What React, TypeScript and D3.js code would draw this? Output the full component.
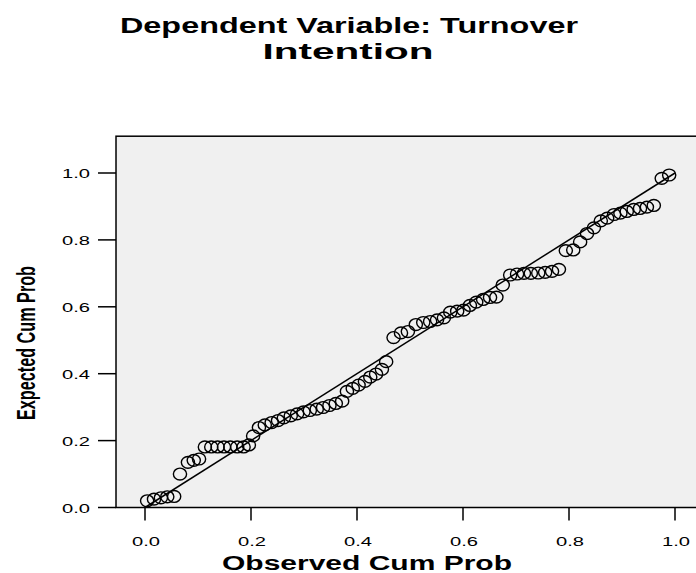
import React from "react";
import * as d3 from "d3";

const observed: number[] = [
  0.004, 0.017, 0.030, 0.042, 0.055, 0.066, 0.081, 0.092, 0.102, 0.113,
  0.125, 0.137, 0.149, 0.161, 0.174, 0.186, 0.196, 0.204, 0.215, 0.226,
  0.239, 0.251, 0.262, 0.275, 0.287, 0.299, 0.311, 0.324, 0.336, 0.348,
  0.360, 0.372, 0.381, 0.392, 0.403, 0.415, 0.425, 0.436, 0.447, 0.455,
  0.469, 0.483, 0.496, 0.511, 0.525, 0.538, 0.551, 0.564, 0.576, 0.589,
  0.601, 0.613, 0.625, 0.638, 0.651, 0.663, 0.675, 0.689, 0.702, 0.715,
  0.728, 0.742, 0.755, 0.768, 0.781, 0.794, 0.808, 0.821, 0.834, 0.847,
  0.860, 0.872, 0.885, 0.897, 0.909, 0.922, 0.934, 0.947, 0.960, 0.975,
  0.989,
];

const expected: number[] = [
  0.020, 0.025, 0.029, 0.032, 0.033, 0.100, 0.135, 0.141, 0.145, 0.181,
  0.181, 0.181, 0.181, 0.181, 0.181, 0.181, 0.187, 0.214, 0.239, 0.247,
  0.254, 0.260, 0.268, 0.274, 0.280, 0.286, 0.290, 0.294, 0.299, 0.305,
  0.311, 0.318, 0.347, 0.356, 0.366, 0.377, 0.390, 0.399, 0.413, 0.436,
  0.508, 0.522, 0.526, 0.547, 0.553, 0.556, 0.561, 0.567, 0.584, 0.587,
  0.590, 0.604, 0.614, 0.622, 0.628, 0.629, 0.665, 0.695, 0.698, 0.700,
  0.700, 0.701, 0.703, 0.706, 0.712, 0.768, 0.770, 0.794, 0.819, 0.836,
  0.857, 0.865, 0.876, 0.880, 0.885, 0.891, 0.894, 0.898, 0.903, 0.984,
  0.994,
];

const tickValues: number[] = [0, 0.2, 0.4, 0.6, 0.8, 1.0];
const titleLines: string[] = ["Dependent Variable: Turnover", "Intention"];
const xTitle = "Observed Cum Prob";
const yTitle = "Expected Cum Prob";

export default function App() {
  const W = 696;
  const H = 573;
  const x = d3.scaleLinear().domain([0, 1]).range([145, 675]);
  const y = d3.scaleLinear().domain([0, 1]).range([507.5, 173]);
  const boxLeft = x(-0.0547);
  const boxRight = x(1.07);
  const boxTop = y(1.11);
  const boxBottom = y(0);
  const font = "Arial, 'Liberation Sans', Helvetica, sans-serif";
  const fmt = d3.format(".1f");

  return (
    <div style={{ position: "absolute", left: 0, top: 0 }}>
      <svg width={W} height={H} style={{ display: "block" }}>
        <rect x={0} y={0} width={W} height={H} fill="#ffffff" />
        <text
          x={349}
          y={33}
          textAnchor="middle"
          fontFamily={font}
          fontWeight="bold"
          fontSize={22}
          textLength={458}
          lengthAdjust="spacingAndGlyphs"
          fill="#000"
        >
          {titleLines[0]}
        </text>
        <text
          x={348}
          y={59}
          textAnchor="middle"
          fontFamily={font}
          fontWeight="bold"
          fontSize={22}
          textLength={171}
          lengthAdjust="spacingAndGlyphs"
          fill="#000"
        >
          {titleLines[1]}
        </text>

        <rect
          x={boxLeft}
          y={boxTop}
          width={boxRight - boxLeft}
          height={boxBottom - boxTop}
          fill="#f0f0f0"
          stroke="#000"
          strokeWidth={1.5}
        />

        {tickValues.map((v) => (
          <g key={"y" + v}>
            <line x1={boxLeft - 18} x2={boxLeft} y1={y(v)} y2={y(v)} stroke="#000" strokeWidth={1.5} />
            <text
              x={90}
              y={y(v) + 5}
              textAnchor="end"
              fontFamily={font}
              fontSize={13.5}
              textLength={28}
              lengthAdjust="spacingAndGlyphs"
              fill="#000"
            >
              {fmt(v)}
            </text>
          </g>
        ))}
        {tickValues.map((v) => (
          <g key={"x" + v}>
            <line x1={x(v)} x2={x(v)} y1={boxBottom} y2={boxBottom + 13} stroke="#000" strokeWidth={1.5} />
            <text
              x={x(v) + 1}
              y={546}
              textAnchor="middle"
              fontFamily={font}
              fontSize={13.5}
              textLength={28}
              lengthAdjust="spacingAndGlyphs"
              fill="#000"
            >
              {fmt(v)}
            </text>
          </g>
        ))}

        <line x1={x(0)} y1={y(0)} x2={x(1)} y2={y(1)} stroke="#000" strokeWidth={1.5} />

        {observed.map((o, i) => (
          <ellipse
            key={i}
            cx={x(o)}
            cy={y(expected[i])}
            rx={6.6}
            ry={5.9}
            fill="none"
            stroke="#000"
            strokeWidth={1.4}
          />
        ))}

        <text
          x={367}
          y={570}
          textAnchor="middle"
          fontFamily={font}
          fontWeight="bold"
          fontSize={20}
          textLength={290}
          lengthAdjust="spacingAndGlyphs"
          fill="#000"
        >
          {xTitle}
        </text>
        <text
          transform={`translate(35, 343) rotate(-90)`}
          textAnchor="middle"
          fontFamily={font}
          fontWeight="bold"
          fontSize={25}
          textLength={154}
          lengthAdjust="spacingAndGlyphs"
          fill="#000"
        >
          {yTitle}
        </text>
      </svg>
    </div>
  );
}
